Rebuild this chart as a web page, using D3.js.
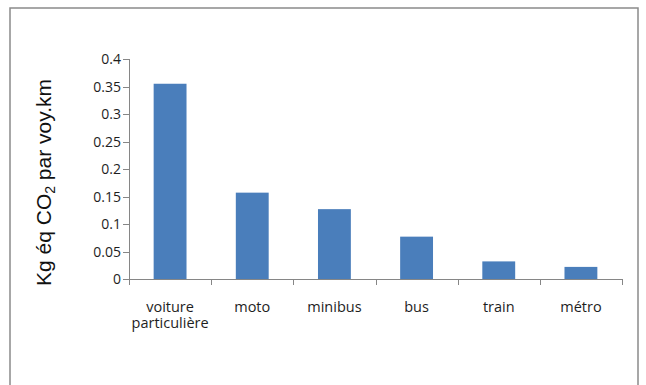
<!DOCTYPE html>
<html>
<head>
<meta charset="utf-8">
<script src="https://cdn.jsdelivr.net/npm/d3@7/dist/d3.min.js"></script>
<style>
  html, body { margin: 0; padding: 0; background: #fff; }
  svg { display: block; }
</style>
</head>
<body>
<svg id="chart" width="646" height="385"></svg>
<script>
// Emissions per passenger-km by transport mode
const categories = [["voiture", "particulière"], ["moto"], ["minibus"], ["bus"], ["train"], ["métro"]];
const values = [0.355, 0.157, 0.127, 0.077, 0.032, 0.022];
const yTicks = [0, 0.05, 0.1, 0.15, 0.2, 0.25, 0.3, 0.35, 0.4];
const yTickLabels = ["0", "0.05", "0.1", "0.15", "0.2", "0.25", "0.3", "0.35", "0.4"];

const svg = d3.select("#chart");
const axisColor = "#868686";
const barColor = "#4a7ebb";
const textColor = "#1e1e1e";

// outer chart frame
svg.append("rect")
  .attr("x", 10).attr("y", 8)
  .attr("width", 628).attr("height", 400)
  .attr("fill", "none").attr("stroke", "#8a8a8a").attr("stroke-width", 1.5);

const plot = { left: 129, right: 622, top: 59, bottom: 279 };
const idx = d3.range(values.length);

const x = d3.scaleBand().domain(idx).range([plot.left, plot.right]).padding(0);
const y = d3.scaleLinear().domain([0, 0.4]).range([plot.bottom, plot.top]);

// bars: 40% of each category slot, centred
const barFrac = 0.4;
svg.append("g").selectAll("rect")
  .data(idx)
  .join("rect")
  .attr("x", i => x(i) + x.bandwidth() * (1 - barFrac) / 2)
  .attr("width", x.bandwidth() * barFrac)
  .attr("y", i => y(values[i]))
  .attr("height", i => y(0) - y(values[i]))
  .attr("fill", barColor);

// y axis
const gy = svg.append("g");
gy.append("line")
  .attr("x1", plot.left + 0.5).attr("x2", plot.left + 0.5)
  .attr("y1", y(0.4)).attr("y2", y(0))
  .attr("stroke", axisColor).attr("stroke-width", 1);
gy.selectAll("line.tick")
  .data(yTicks)
  .join("line")
  .attr("class", "tick")
  .attr("x1", plot.left - 6).attr("x2", plot.left)
  .attr("y1", d => Math.round(y(d)) + 0.5).attr("y2", d => Math.round(y(d)) + 0.5)
  .attr("stroke", axisColor);
gy.selectAll("text")
  .data(yTicks)
  .join("text")
  .attr("x", plot.left - 8)
  .attr("y", d => y(d))
  .attr("dy", "0.36em")
  .attr("text-anchor", "end")
  .attr("font-family", "'Open Sans', sans-serif")
  .attr("font-size", 14)
  .attr("fill", textColor)
  .text((d, i) => yTickLabels[i]);

// x axis with ticks at the category boundaries
const gx = svg.append("g");
gx.append("line")
  .attr("x1", plot.left).attr("x2", plot.right)
  .attr("y1", y(0) + 0.5).attr("y2", y(0) + 0.5)
  .attr("stroke", axisColor);
const bounds = idx.map(i => x(i)).concat([x(idx.length - 1) + x.bandwidth()]);
gx.selectAll("line.tick")
  .data(bounds)
  .join("line")
  .attr("class", "tick")
  .attr("x1", d => Math.round(d) + 0.5).attr("x2", d => Math.round(d) + 0.5)
  .attr("y1", y(0)).attr("y2", y(0) + 6)
  .attr("stroke", axisColor);

const labels = gx.selectAll("text")
  .data(idx)
  .join("text")
  .attr("text-anchor", "middle")
  .attr("font-family", "'Open Sans', sans-serif")
  .attr("font-size", 14.5)
  .attr("fill", textColor)
  .attr("y", y(0) + 33);
labels.each(function(i) {
  const t = d3.select(this);
  const cx = x(i) + x.bandwidth() / 2;
  categories[i].forEach((line, k) => {
    t.append("tspan")
      .attr("x", cx)
      .attr("dy", k === 0 ? 0 : 16)
      .text(line);
  });
});

// y axis title with subscript
const title = svg.append("text")
  .attr("transform", "translate(51,182.5) rotate(-90)")
  .attr("text-anchor", "middle")
  .attr("font-family", "'Liberation Sans', Arial, sans-serif")
  .attr("font-size", 21)
  .attr("fill", "#111");
title.append("tspan").text("Kg éq CO");
title.append("tspan").attr("font-size", 14).attr("dy", 4).text("2");
title.append("tspan").attr("dy", -4).text(" par voy.km");
</script>
</body>
</html>
